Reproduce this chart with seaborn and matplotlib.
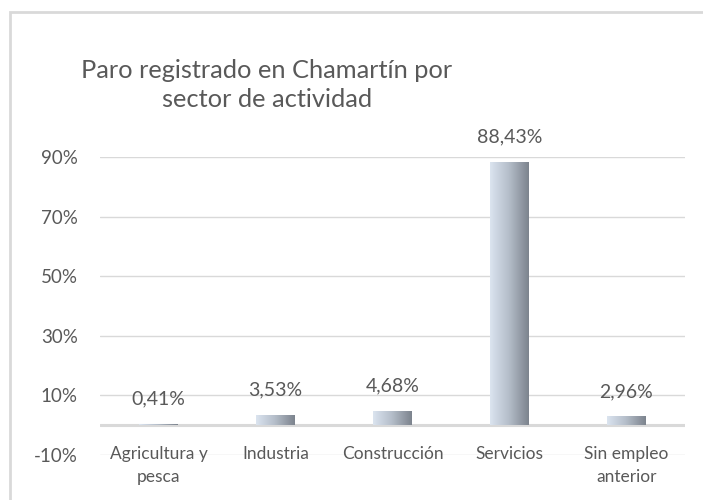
import numpy as np
import pandas as pd
import matplotlib.pyplot as plt
import matplotlib.patches as mpatches
from matplotlib.colors import LinearSegmentedColormap
import seaborn as sns

# Datos del gráfico
sectores = ['Agricultura y\npesca', 'Industria', 'Construcción', 'Servicios', 'Sin empleo\nanterior']
porcentajes = [0.41, 3.53, 4.68, 88.43, 2.96]
ticks_y = [-10, 10, 30, 50, 70, 90]

df = pd.DataFrame({'Sector': sectores, 'Porcentaje': porcentajes})

sns.set_style('white')
plt.rcParams['font.family'] = ['Lato', 'DejaVu Sans']
gris_texto = '#595959'
gris_linea = '#d9d9d9'

fig = plt.figure(figsize=(7.03, 5), dpi=100)
ax = fig.add_axes([100 / 703, 45 / 500, 585 / 703, 298 / 500])

sns.barplot(data=df, x='Sector', y='Porcentaje', ax=ax, width=0.33,
            color='#b0b8c4', edgecolor='none')

# Degradado horizontal en cada barra
cmap = LinearSegmentedColormap.from_list('grad', ['#dbe4ef', '#b3bcc8', '#7c838d'])
grad = np.linspace(0, 1, 256).reshape(1, -1)
for p in ax.patches:
    x0, y0 = p.get_x(), p.get_y()
    w, h = p.get_width(), p.get_height()
    im = ax.imshow(grad, cmap=cmap, aspect='auto', extent=[x0, x0 + w, y0, y0 + h], zorder=3)
    im.set_clip_path(p)
    p.set_facecolor('none')

ax.set_xlim(-0.5, len(sectores) - 0.5)
ax.set_ylim(-10, 90)
ax.set_yticks(ticks_y)
ax.set_yticklabels([f'{t}%' for t in ticks_y], color=gris_texto, fontsize=13.5)
ax.tick_params(axis='y', length=0, pad=16)
ax.grid(axis='y', color=gris_linea, linewidth=1, zorder=0)
ax.set_axisbelow(True)
ax.axhline(0, color=gris_linea, linewidth=2.2, zorder=2)
for s in ax.spines.values():
    s.set_visible(False)

# Etiquetas de categorías sobre la línea de -10%
ax.set_xticks([])
ax.set_xlabel('')
ax.set_ylabel('')
for i, s in enumerate(sectores):
    ax.text(i, -10 + 3.0, s, ha='center', va='top', color=gris_texto, fontsize=12.5,
            linespacing=1.55)

# Etiquetas de datos
for i, v in enumerate(porcentajes):
    ax.annotate(f'{v:.2f}%'.replace('.', ','), (i, v), xytext=(0, 18),
                textcoords='offset points', ha='center', va='center',
                color=gris_texto, fontsize=14)

fig.text(267 / 703, 1 - 85 / 500, 'Paro registrado en Chamartín por\nsector de actividad',
         ha='center', va='center', fontsize=18.3, color=gris_texto, linespacing=1.3)

# Marco del gráfico
fig.patches.append(mpatches.Rectangle((10 / 703, -0.1), 1.2, 1.1 - 12 / 500,
                                      transform=fig.transFigure, fill=False,
                                      edgecolor=gris_linea, linewidth=2))

fig.savefig('out.png', dpi=100)
